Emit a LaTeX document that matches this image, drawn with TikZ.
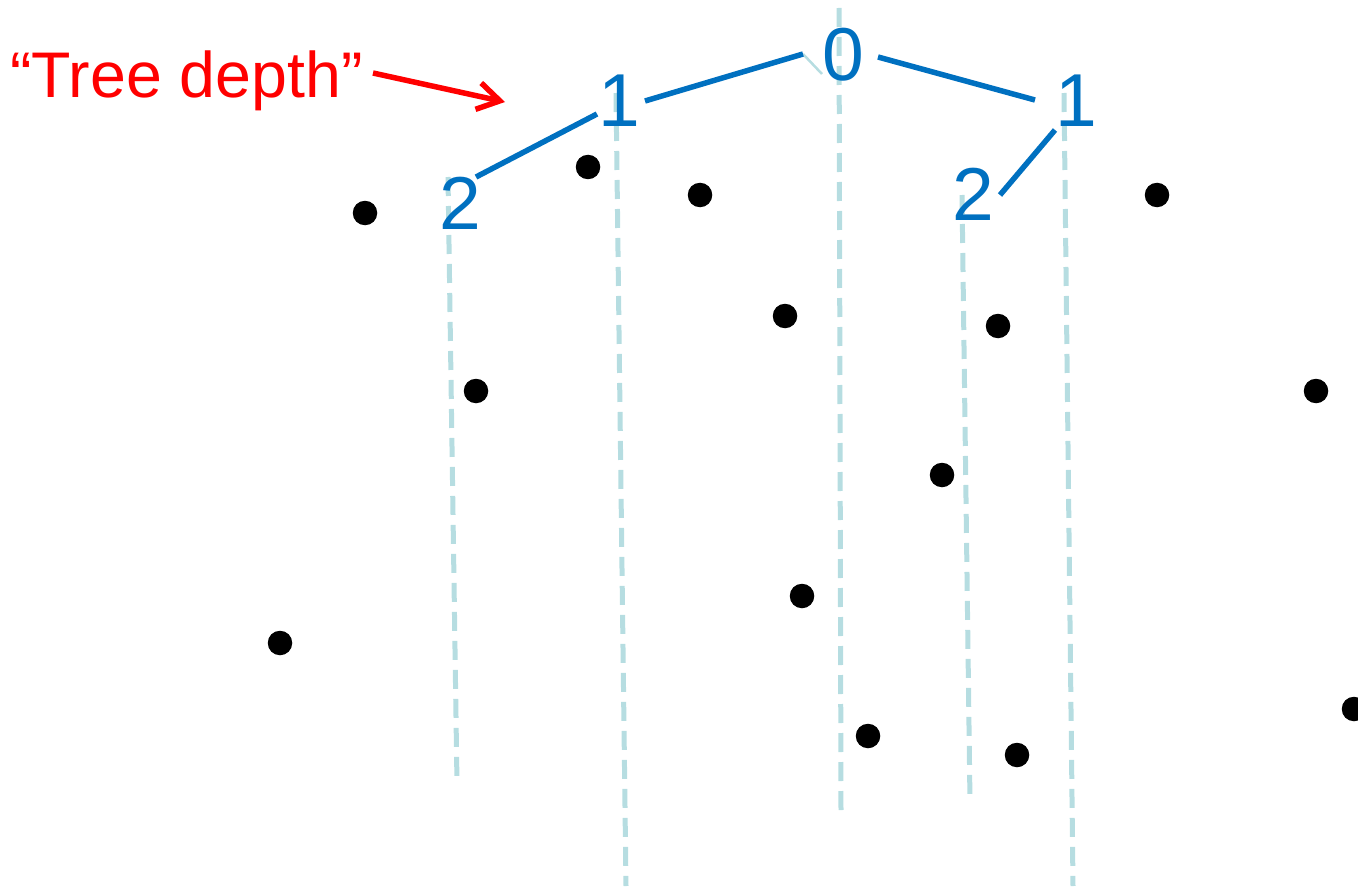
\documentclass[tikz,border=0pt]{standalone}
\usepackage{fontspec}
\setmainfont{Liberation Sans}
\usetikzlibrary{arrows.meta}
\definecolor{treeblue}{RGB}{0,112,192}
\definecolor{splitblue}{RGB}{182,221,225}
\definecolor{labelred}{RGB}{255,0,0}
\begin{document}
\begin{tikzpicture}[x=1pt,y=-1pt,
  split/.style={draw=splitblue,line width=5pt,dash pattern=on 19pt off 10pt},
  digit/.style={text=treeblue,font=\fontsize{75}{75}\selectfont,inner sep=0pt},
  edge/.style={draw=treeblue,line width=5.5pt},
  pt/.style={fill=black,circle,inner sep=0pt,minimum size=24.5pt},
  label/.style={text=labelred,font=\fontsize{64.5}{64.5}\selectfont,inner sep=0pt,anchor=base west},
  pointer/.style={draw=labelred,line width=5.5pt,-{Straight Barb[length=22pt,width=27pt,line width=5.5pt]}}]
\useasboundingbox (0,0) rectangle (1358,888);
% split lines
\coordinate (s0a) at (839,8);   \coordinate (s0b) at (841,811);
\coordinate (s1a) at (616,93);  \coordinate (s1b) at (626,886);
\coordinate (s2a) at (1064,93); \coordinate (s2b) at (1073,886);
\coordinate (s3a) at (448,177); \coordinate (s3b) at (457,784);
\coordinate (s4a) at (962,195); \coordinate (s4b) at (970,802);
\draw[split] (s0a) -- (s0b);
\draw[split] (s1a) -- (s1b);
\draw[split] (s2a) -- (s2b);
\draw[split] (s3a) -- (s3b);
\draw[split] (s4a) -- (s4b);
\coordinate (stubA) at (803,54); \coordinate (stubB) at (822,74);
\draw[draw=splitblue,line width=2.5pt] (stubA) -- (stubB);
% digits
\node[digit] (d0) at (843,55) {0};
\node[digit] (d1l) at (619,101) {1};
\node[digit] (d1r) at (1076,101) {1};
\node[digit] (d2l) at (460,203) {2};
\node[digit] (d2r) at (973,194) {2};
% tree edges
\coordinate (e1a) at (476,177); \coordinate (e1b) at (597,114);
\coordinate (e2a) at (645,101); \coordinate (e2b) at (803,54);
\coordinate (e3a) at (878,57);  \coordinate (e3b) at (1035,100);
\coordinate (e4a) at (1055,130); \coordinate (e4b) at (1000,195);
\draw[edge] (e1a) -- (e1b);
\draw[edge] (e2a) -- (e2b);
\draw[edge] (e3a) -- (e3b);
\draw[edge] (e4a) -- (e4b);
% points
\node[pt] (p1) at (365,213) {};
\node[pt] (p2) at (588,167) {};
\node[pt] (p3) at (700,195) {};
\node[pt] (p4) at (785,316) {};
\node[pt] (p5) at (998,326) {};
\node[pt] (p6) at (1157,195) {};
\node[pt] (p7) at (1316,391) {};
\node[pt] (p8) at (476,391) {};
\node[pt] (p9) at (942,475) {};
\node[pt] (p10) at (802,596) {};
\node[pt] (p11) at (280,643) {};
\node[pt] (p12) at (868,736) {};
\node[pt] (p13) at (1017,755) {};
\node[pt] (p14) at (1354,709) {};
% label
\node[label] (lab) at (10,98) {“Tree depth”};
\coordinate (arrA) at (373,73); \coordinate (arrB) at (505,102);
\draw[pointer] (arrA) -- (arrB);
\end{tikzpicture}
\end{document}
